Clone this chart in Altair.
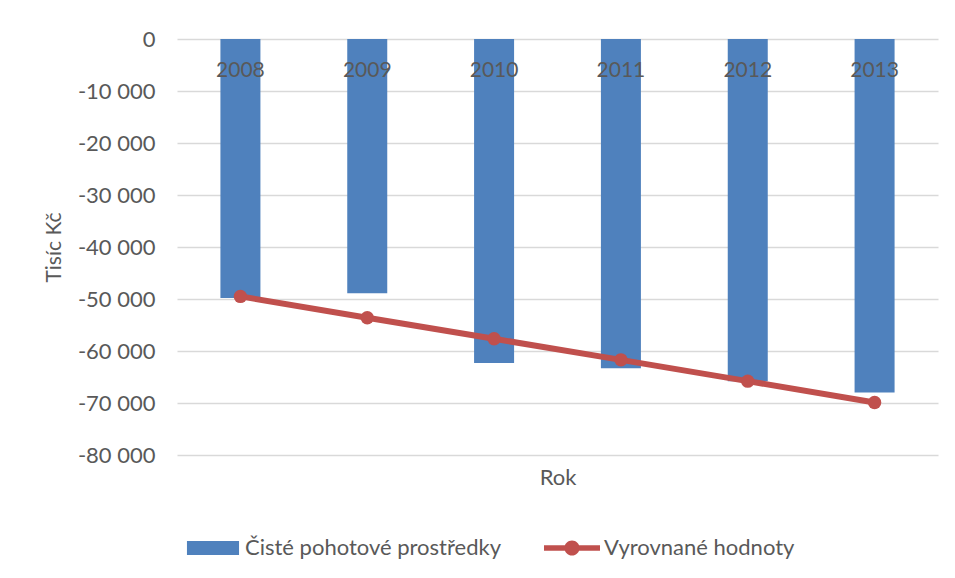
import altair as alt
import pandas as pd

# Years on the category axis
years = ["2008", "2009", "2010", "2011", "2012", "2013"]
# Net liquid assets (thousand CZK)
net_liquid = [-49800, -48900, -62300, -63300, -65800, -68000]
# Fitted trend values (thousand CZK)
fitted = [-49500, -53600, -57650, -61700, -65800, -69900]
# Legend entries
series_names = ["Čisté pohotové prostředky", "Vyrovnané hodnoty"]
# Value axis ticks
y_ticks = [0, -10000, -20000, -30000, -40000, -50000, -60000, -70000, -80000]

BLUE = "#4F81BD"
RED = "#C0504D"
GREY_TEXT = "#595959"
FONT = "Lato"

df = pd.DataFrame({"Rok": years, "cpp": net_liquid, "fit": fitted})
legend_df = pd.DataFrame({"serie": series_names})

x_scale = alt.Scale(paddingInner=0.6846, paddingOuter=0.3423)
y_scale = alt.Scale(domain=[-80000, 0], nice=False, zero=False)

label_expr = ("datum.value == 0 ? '0' : '-' + format(abs(datum.value) / 1000, 'd') + ' 000'")

bars = alt.Chart(df).mark_bar(color=BLUE).encode(
    x=alt.X(
        "Rok:N",
        scale=x_scale,
        sort=years,
        axis=alt.Axis(
            orient="top", title=None, domain=False, ticks=False, tickSize=0,
            grid=False, labelAngle=0, labelPadding=-31, labelBaseline="middle",
            labelFont=FONT, labelFontSize=21, labelColor=GREY_TEXT, zindex=1,
        ),
    ),
    y=alt.Y(
        "cpp:Q",
        scale=y_scale,
        title="Tisíc Kč",
        axis=alt.Axis(
            values=y_ticks, labelExpr=label_expr, domain=False, ticks=False,
            tickSize=0, labelPadding=22, grid=True, gridColor="#D9D9D9",
            gridWidth=1.5, labelFont=FONT, labelFontSize=22,
            labelColor=GREY_TEXT, titleFont=FONT, titleFontSize=21,
            titleFontWeight="normal", titleColor=GREY_TEXT, titlePadding=13,
        ),
    ),
)

trend = alt.Chart(df).mark_line(
    color=RED, strokeWidth=6,
    point=alt.OverlayMarkDef(filled=True, size=180, color=RED, opacity=1),
).encode(
    x=alt.X(
        "Rok:N",
        sort=years,
        axis=alt.Axis(
            orient="bottom", title="Rok", labels=False, domain=False,
            ticks=False, tickSize=0, grid=False, titleFont=FONT,
            titleFontSize=22, titleFontWeight="normal", titleColor=GREY_TEXT,
            titlePadding=12,
        ),
    ),
    y=alt.Y("fit:Q", title="Tisíc Kč"),
)

# Legend swatches: a filled band for the bars, a thick line with a dot for the trend
bar_swatch = "M-0.93,-0.25H0.93V0.25H-0.93Z"
line_swatch = (
    "M-1,-0.1H1V0.1H-1Z"
    "M-0.27,0A0.27,0.27,0,1,1,0.27,0A0.27,0.27,0,1,1,-0.27,0Z"
)

legend_layer = alt.Chart(legend_df).transform_filter("false").mark_point(
    filled=True, opacity=1
).encode(
    color=alt.Color(
        "serie:N",
        scale=alt.Scale(domain=series_names, range=[BLUE, RED]),
        legend=alt.Legend(
            orient="none", legendX=8, legendY=481, direction="horizontal",
            title=None, labelFont=FONT, labelFontSize=22, labelColor=GREY_TEXT,
            labelLimit=0, symbolSize=3136, symbolStrokeWidth=0, labelOffset=4,
            columnPadding=42, padding=0,
        ),
    ),
    shape=alt.Shape(
        "serie:N",
        scale=alt.Scale(domain=series_names, range=[bar_swatch, line_swatch]),
    ),
)

chart = (
    alt.layer(bars, trend, legend_layer)
    .resolve_axis(x="independent")
    .properties(
        width=761,
        height=416,
        autosize=alt.AutoSizeParams(type="none"),
        padding={"left": 177, "top": 39, "right": 17, "bottom": 123},
        background="white",
    )
    .configure_view(stroke=None)
)

chart.save("out.html", embed_options={"renderer": "svg", "actions": False})
